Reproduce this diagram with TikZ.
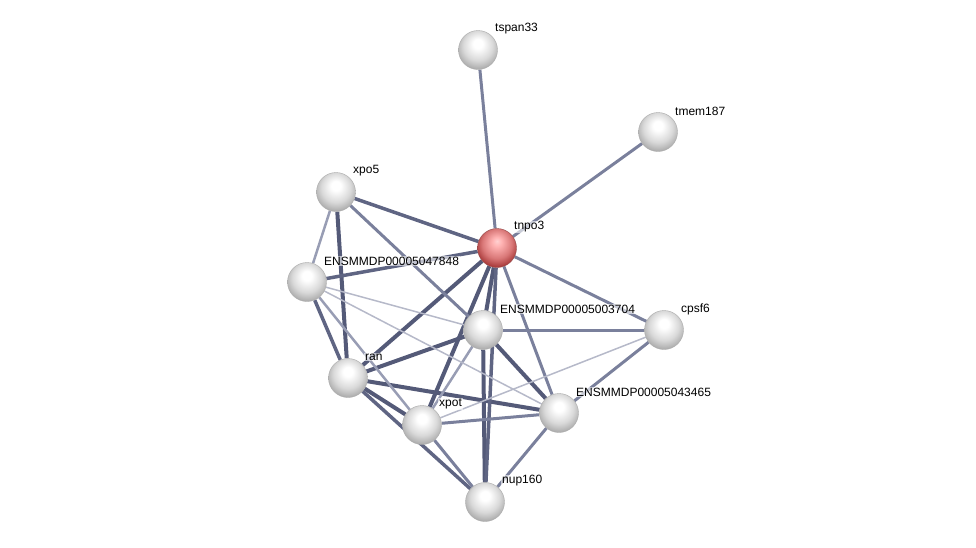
\documentclass[tikz,border=0pt]{standalone}
\usepackage{fontspec}
\setmainfont{Liberation Sans}
\usetikzlibrary{backgrounds}
\definecolor{strdark}{RGB}{84,90,120}
\definecolor{strmid}{RGB}{122,128,156}
\definecolor{strlight}{RGB}{152,157,180}
\definecolor{strfaint}{RGB}{182,185,201}
\pgfdeclareradialshading{greyball}{\pgfqpoint{0bp}{9bp}}{color(0bp)=(white); color(6bp)=(white); color(19bp)=(gray!30); color(29bp)=(gray!68); color(50bp)=(gray!68)}
\pgfdeclareradialshading{redball}{\pgfqpoint{0bp}{9bp}}{color(0bp)=(red!18!white); color(6bp)=(red!30!white); color(19bp)=(red!45!white!85!black); color(29bp)=(red!55!black!80); color(50bp)=(red!55!black!80)}

\begin{document}
\begin{tikzpicture}[x=1pt,y=-1pt,font=\fontsize{12}{14}\selectfont,
  prot/.style={circle,minimum size=39pt,inner sep=0pt,draw=gray!65,line width=.4pt,shading=greyball},
  hub/.style={prot,draw=red!40!black!70,shading=redball},
  lbl/.style={anchor=west,inner sep=1pt,fill=white,fill opacity=.6,text opacity=1},
  hi/.style={strdark,line width=4pt},
  midhi/.style={strdark!70!strmid,line width=3.5pt},
  mid/.style={strmid,line width=3pt},
  lo/.style={strlight,line width=2.5pt},
  faint/.style={strfaint,line width=1.5pt}]
\useasboundingbox (0,0) rectangle (976,547);
% proteins
\foreach \n/\x/\y/\t in {tspan/478/50/tspan33,tmem/658/132/tmem187,xpo/336/192/xpo5,
  e848/307/282/ENSMMDP00005047848,e704/483/330/ENSMMDP00005003704,cpsf/664/330/cpsf6,
  ran/348/378/ran,xpot/422/425/xpot,e465/559/413/ENSMMDP00005043465,nup/485/502/nup160}{
  \node[prot] (\n) at (\x,\y) {};
  \node[lbl] (\n-l) at ([shift={(16,-21)}]\n.center) {\t};
}
\node[hub] (tnpo) at (497,248) {};
\node[lbl] (tnpo-l) at ([shift={(16,-21)}]tnpo.center) {tnpo3};
% interactions
\begin{scope}[on background layer]
\foreach \a/\b in {xpo/ran,tnpo/ran,tnpo/e704,tnpo/xpot,e704/ran,e704/e465,ran/xpot,ran/e465,e704/nup}
  {\draw[hi] (\a) -- (\b);}
\foreach \a/\b in {xpo/tnpo,e848/tnpo,e848/ran,ran/nup,tnpo/nup}
  {\draw[midhi] (\a) -- (\b);}
\foreach \a/\b in {tspan/tnpo,tmem/tnpo,xpo/e704,tnpo/e465,tnpo/cpsf,e704/cpsf,xpot/nup,xpot/e465,e465/nup,e465/cpsf}
  {\draw[mid] (\a) -- (\b);}
\foreach \a/\b in {xpo/e848,e848/xpot,e704/xpot}
  {\draw[lo] (\a) -- (\b);}
\foreach \a/\b in {e848/e704,e848/e465,xpot/cpsf}
  {\draw[faint] (\a) -- (\b);}
\end{scope}
\end{tikzpicture}
\end{document}
